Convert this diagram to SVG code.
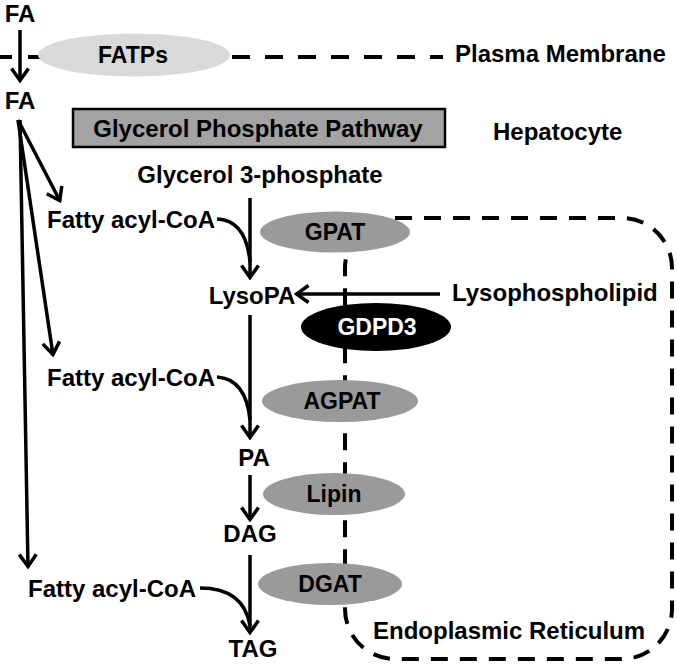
<svg xmlns="http://www.w3.org/2000/svg" width="677" height="665" viewBox="0 0 677 665">
<style>
text{font-family:"Liberation Sans",Arial,sans-serif;font-weight:bold;font-size:24px;fill:#000}
.c{text-anchor:middle}
.enz{font-size:23px}
.ln{fill:none;stroke:#000;stroke-width:3.5}
.dash{fill:none;stroke:#000;stroke-width:4;stroke-dasharray:17 12}
.ell{fill:#9a9a9a}
</style>
<defs>
<marker id="ah" viewBox="0 0 16 20" refX="14" refY="10" markerWidth="16" markerHeight="20" markerUnits="userSpaceOnUse" orient="auto">
<path d="M1.5,1.5 L13.5,10 L1.5,18.5" fill="none" stroke="#000" stroke-width="3.5"/>
</marker>
</defs>
<g id="membranes">
<path class="dash" d="M0,57 L12,57 M28,57 L40,57 M232,57 L443,57" style="stroke-dasharray:18 15"/>
<rect class="dash" x="345" y="218" width="327" height="441" rx="50" ry="50"/>
</g>
<g id="connectors">
<line class="ln" x1="20" y1="30" x2="20" y2="81" marker-end="url(#ah)"/>
<line class="ln" x1="18" y1="120" x2="60" y2="201" marker-end="url(#ah)"/>
<line class="ln" x1="18" y1="120" x2="53" y2="355" marker-end="url(#ah)"/>
<line class="ln" x1="20" y1="120" x2="28" y2="567" marker-end="url(#ah)"/>
<line class="ln" x1="250" y1="198" x2="250" y2="278" marker-end="url(#ah)"/>
<path class="ln" d="M217,219 Q246,220 250,262"/>
<line class="ln" x1="440" y1="294" x2="296" y2="294" marker-end="url(#ah)"/>
<line class="ln" x1="250" y1="315" x2="250" y2="438" marker-end="url(#ah)"/>
<path class="ln" d="M217,377 Q246,379 250,420"/>
<line class="ln" x1="250" y1="475" x2="250" y2="520" marker-end="url(#ah)"/>
<line class="ln" x1="250" y1="555" x2="250" y2="633" marker-end="url(#ah)"/>
<path class="ln" d="M200,588 Q244,588 250,626"/>
</g>
<g id="fatps"><ellipse cx="134" cy="55" rx="96" ry="21.5" fill="#d9d9d9"/><text class="c enz" x="133" y="63">FATPs</text></g>
<g id="gpp"><rect x="73" y="109" width="372" height="38" fill="#a3a3a3" stroke="#000" stroke-width="2.5"/><text class="c" x="258" y="137">Glycerol Phosphate Pathway</text></g>
<g id="gpat"><ellipse class="ell" cx="335" cy="232" rx="75" ry="20.5"/><text class="c enz" x="335" y="240">GPAT</text></g>
<g id="gdpd3"><ellipse cx="376" cy="327" rx="75" ry="24" fill="#000"/><text class="c enz" x="377" y="335" style="fill:#fff">GDPD3</text></g>
<g id="agpat"><ellipse class="ell" cx="340" cy="401" rx="78" ry="21"/><text class="c enz" x="342" y="409">AGPAT</text></g>
<g id="lipin"><ellipse class="ell" cx="334" cy="494" rx="71" ry="21"/><text class="c enz" x="334" y="502">Lipin</text></g>
<g id="dgat"><ellipse class="ell" cx="330" cy="584" rx="72" ry="21"/><text class="c enz" x="330" y="592">DGAT</text></g>
<g id="labels">
<text class="c" x="20" y="22">FA</text>
<text class="c" x="20" y="109">FA</text>
<text x="455" y="62">Plasma Membrane</text>
<text x="493" y="140">Hepatocyte</text>
<text class="c" x="260" y="183">Glycerol 3-phosphate</text>
<text x="47" y="228">Fatty acyl-CoA</text>
<text class="c" x="252" y="304">LysoPA</text>
<text x="452" y="301">Lysophospholipid</text>
<text x="47" y="386">Fatty acyl-CoA</text>
<text class="c" x="254" y="466">PA</text>
<text class="c" x="250" y="542">DAG</text>
<text x="28" y="597">Fatty acyl-CoA</text>
<text class="c" x="253" y="657">TAG</text>
<text x="373" y="639">Endoplasmic Reticulum</text>
</g>
</svg>
